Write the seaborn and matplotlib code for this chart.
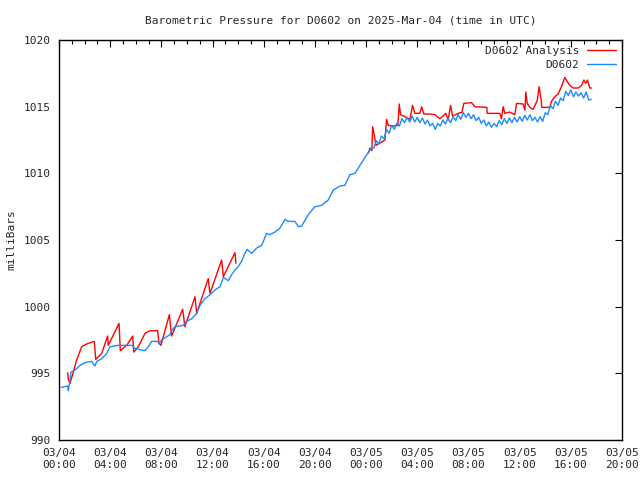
import pandas as pd
import seaborn as sns
import matplotlib.pyplot as plt
from matplotlib.ticker import MultipleLocator
from matplotlib.lines import Line2D

# Station observations (hours since 03/04 00:00 UTC, millibars)
obs_hours = [0.16, 0.68, 0.73, 0.94, 1.25, 1.64, 2.03, 2.55, 2.81, 2.95, 3.34, 3.73, 3.98,
             4.63, 5.73, 5.88, 6.41, 6.72, 6.98, 7.24, 7.63, 7.89, 8.02, 8.41, 8.67, 8.8,
             9.06, 9.71, 9.98, 10.37, 10.76, 11.02, 11.41, 11.8, 12.19, 12.58, 12.84, 13.23,
             13.49, 13.75, 14.0, 14.27, 14.53, 14.71, 15.05, 15.45, 15.84, 16.23, 16.48,
             16.88, 17.27, 17.66, 17.91, 18.44, 18.7, 18.96, 19.48, 20.0, 20.52, 21.04,
             21.43, 21.95, 22.34, 22.73, 23.13, 23.52, 23.91, 24.2,
             24.4, 24.6, 24.8, 25.0, 25.2, 25.4, 25.6, 25.8, 26.0, 26.2, 26.4, 26.6, 26.8,
             27.0, 27.2, 27.4, 27.6, 27.8, 28.0, 28.2, 28.4, 28.6, 28.8, 29.0, 29.2, 29.4,
             29.6, 29.8, 30.0, 30.2, 30.4, 30.6, 30.8, 31.0, 31.2, 31.4, 31.6, 31.8, 32.0,
             32.2, 32.4, 32.6, 32.8, 33.0, 33.2, 33.4, 33.6, 33.8, 34.0, 34.2, 34.4, 34.6,
             34.8, 35.0, 35.2, 35.4, 35.6, 35.8, 36.0, 36.2, 36.4, 36.6, 36.8, 37.0, 37.2,
             37.4, 37.6, 37.8, 38.0, 38.2, 38.4, 38.6, 38.8, 39.0, 39.2, 39.4, 39.6, 39.8,
             40.0, 40.2, 40.4, 40.6, 40.8, 41.0, 41.2, 41.4, 41.6]
obs_mb = [993.95, 994.05, 993.7, 995.1, 995.25, 995.6, 995.8, 995.9, 995.55, 995.9, 996.1,
          996.5, 997.0, 997.1, 997.1, 996.9, 996.75, 996.7, 997.0, 997.4, 997.4, 997.3,
          997.5, 997.75, 997.9, 998.2, 998.5, 998.6, 998.9, 999.1, 999.5, 1000.1, 1000.6,
          1000.9, 1001.25, 1001.5, 1002.2, 1001.95, 1002.4, 1002.75, 1003.0, 1003.4,
          1004.0, 1004.3, 1004.0, 1004.4, 1004.6, 1005.5, 1005.4, 1005.6, 1005.9, 1006.55,
          1006.4, 1006.4, 1006.0, 1006.05, 1006.9, 1007.5, 1007.6, 1008.0, 1008.75,
          1009.05, 1009.1, 1009.9, 1010.0, 1010.6, 1011.2, 1011.6,
          1011.9, 1011.9, 1012.45, 1012.2, 1012.8, 1012.6, 1013.3, 1013.0, 1013.6, 1013.3,
          1013.75, 1013.55, 1014.1, 1013.8, 1014.2, 1013.85, 1014.3, 1013.85, 1014.2,
          1013.8, 1014.15, 1013.7, 1014.0, 1013.55, 1013.75, 1013.3, 1013.75, 1013.55,
          1014.0, 1013.7, 1014.15, 1013.8, 1014.25, 1013.95, 1014.4, 1014.05, 1014.55,
          1014.2, 1014.5, 1014.1, 1014.4, 1013.95, 1014.2, 1013.75, 1014.0, 1013.55,
          1013.85, 1013.45, 1013.75, 1013.5, 1013.95, 1013.65, 1014.1, 1013.75, 1014.15,
          1013.8, 1014.2, 1013.85, 1014.25, 1013.9, 1014.35, 1014.0, 1014.4, 1013.95,
          1014.2, 1013.85, 1014.25, 1013.9, 1014.55, 1014.4, 1015.1, 1014.85, 1015.4,
          1015.1, 1015.65, 1015.45, 1016.15, 1015.85, 1016.25, 1015.75, 1016.1, 1015.8,
          1016.05, 1015.65, 1016.1, 1015.5, 1015.55]

# Analysis, first segment
ana1_hours = [0.68, 0.73, 0.86, 1.12, 1.38, 1.77, 2.16, 2.76, 2.87, 3.34, 3.8, 3.85, 4.69,
              4.79, 5.29, 5.76, 5.84, 6.2, 6.72, 7.11, 7.71, 7.81, 7.97, 8.62, 8.8, 9.66,
              9.84, 10.63, 10.76, 11.66, 11.8, 12.71, 12.84, 13.75, 13.83]
ana1_mb = [995.05, 994.55, 994.25, 995.1, 996.0, 997.0, 997.2, 997.4, 996.05, 996.5, 997.8,
           997.1, 998.75, 996.7, 997.1, 997.8, 996.6, 997.0, 998.0, 998.2, 998.2, 997.25,
           997.1, 999.4, 997.8, 999.8, 998.5, 1000.75, 999.5, 1002.1, 1001.0, 1003.5,
           1002.25, 1004.05, 1003.25]

# Analysis, second segment
ana2_hours = [24.16, 24.3, 24.45, 24.51, 24.61, 24.77, 25.47, 25.6, 25.73, 26.12, 26.48,
              26.59, 26.69, 27.03, 27.42, 27.63, 27.81, 28.2, 28.34, 28.52, 28.98, 29.38,
              29.77, 30.23, 30.41, 30.6, 30.76, 31.33, 31.48, 31.64, 32.24, 32.5, 33.44,
              33.46, 33.8, 34.45, 34.58, 34.71, 34.84, 35.23, 35.62, 35.76, 36.27, 36.41,
              36.48, 36.59, 36.8, 37.05, 37.37, 37.52, 37.68, 37.73, 38.36, 38.49, 38.75,
              39.0, 39.27, 39.53, 39.71, 39.92, 40.18, 40.57, 40.84, 41.02, 41.17, 41.3,
              41.48, 41.61]
ana2_mb = [1011.5, 1011.9, 1011.7, 1013.5, 1013.0, 1012.1, 1012.5, 1014.05, 1013.6, 1013.55,
           1013.6, 1015.2, 1014.4, 1014.25, 1014.05, 1015.1, 1014.5, 1014.5, 1015.0, 1014.45,
           1014.45, 1014.4, 1014.1, 1014.5, 1014.0, 1015.1, 1014.3, 1014.55, 1014.55,
           1015.25, 1015.3, 1015.0, 1014.95, 1014.5, 1014.5, 1014.5, 1014.1, 1015.0, 1014.5,
           1014.6, 1014.4, 1015.25, 1015.2, 1014.75, 1016.1, 1015.25, 1014.95, 1014.8,
           1015.45, 1016.5, 1015.5, 1014.95, 1014.95, 1015.4, 1015.75, 1015.95, 1016.5,
           1017.2, 1016.9, 1016.6, 1016.4, 1016.4, 1016.6, 1017.0, 1016.75, 1017.0, 1016.4,
           1016.4]

x_tick_labels = ['03/04\n00:00', '03/04\n04:00', '03/04\n08:00', '03/04\n12:00',
                 '03/04\n16:00', '03/04\n20:00', '03/05\n00:00', '03/05\n04:00',
                 '03/05\n08:00', '03/05\n12:00', '03/05\n16:00', '03/05\n20:00']

sns.set_style("white")
plt.rcParams['font.family'] = ['DejaVu Sans Mono', 'DejaVu Sans']
plt.rcParams['font.size'] = 8

red = '#ff0000'
blue = '#1a8cff'

obs = pd.DataFrame({'hour': obs_hours, 'mb': obs_mb})
ana = pd.concat([
    pd.DataFrame({'hour': ana1_hours, 'mb': ana1_mb, 'seg': 1}),
    pd.DataFrame({'hour': ana2_hours, 'mb': ana2_mb, 'seg': 2}),
])

fig = plt.figure(figsize=(6.4, 4.8), dpi=100)
ax = fig.add_axes([0.0922, 0.0833, 0.8797, 0.8333])

sns.lineplot(data=ana, x='hour', y='mb', units='seg', estimator=None, color=red,
             linewidth=1.0, ax=ax, legend=False)
sns.lineplot(data=obs, x='hour', y='mb', estimator=None, color=blue,
             linewidth=1.0, ax=ax, legend=False)

ax.set_xlim(0, 44)
ax.set_ylim(990, 1020)
ax.set_xticks(range(0, 45, 4))
ax.set_xticklabels(x_tick_labels)
ax.xaxis.set_minor_locator(MultipleLocator(1))
ax.set_yticks(range(990, 1021, 5))
ax.tick_params(which='both', direction='in', top=True, right=True, color='black',
               labelsize=8, pad=6)
ax.tick_params(which='major', length=5, width=0.8)
ax.tick_params(which='minor', length=3, width=0.8)
for s in ax.spines.values():
    s.set_color('black')
    s.set_linewidth(1.0)

ax.set_xlabel('')
ax.set_ylabel('milliBars', fontsize=8, labelpad=5)
ax.set_title('Barometric Pressure for D0602 on 2025-Mar-04 (time in UTC)', fontsize=8, pad=12)

handles = [Line2D([], [], color=red, linewidth=1.0), Line2D([], [], color=blue, linewidth=1.0)]
ax.legend(handles, ['D0602 Analysis', 'D0602'], loc='upper right', frameon=False,
          markerfirst=False, fontsize=8, handlelength=2.6, borderaxespad=0.15,
          labelspacing=0.35, handletextpad=0.7)

plt.savefig('out.png', dpi=100)
